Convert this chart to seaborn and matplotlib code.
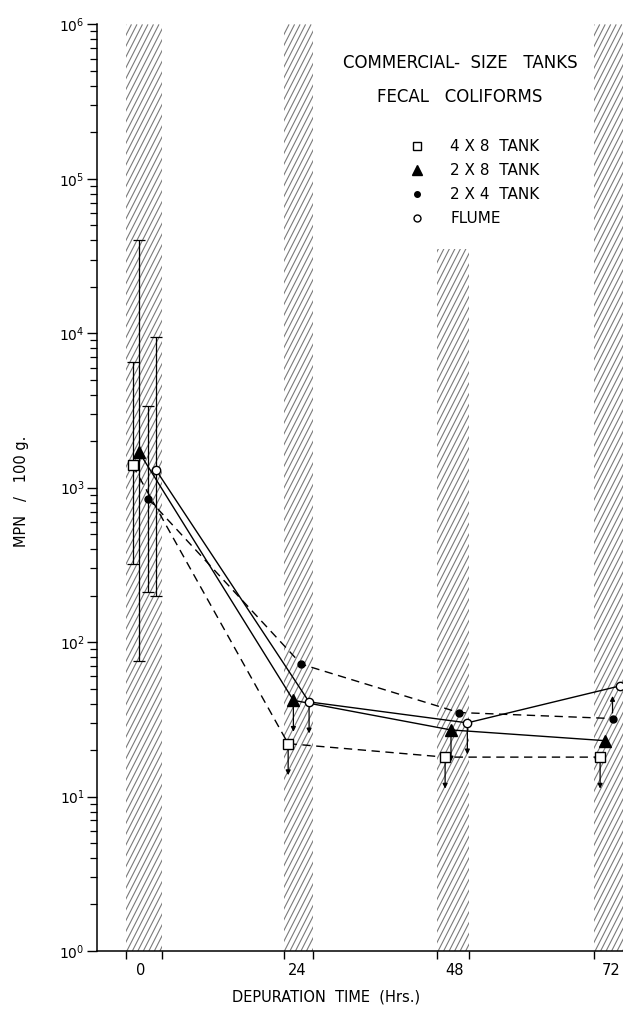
import matplotlib
matplotlib.use("Agg")
import numpy as np
import matplotlib.pyplot as plt
import seaborn as sns
import pandas as pd
from matplotlib.lines import Line2D
from matplotlib.patches import Rectangle
from matplotlib.collections import LineCollection
from matplotlib.ticker import LogLocator, FixedLocator, NullFormatter

# data (hours are slightly offset per series, as drawn)
hours_4x8 = [-1.2, 22.6, 46.6, 70.3]
mpn_4x8 = [1400, 22, 18, 18]
hours_2x8 = [-0.2, 23.4, 47.5, 71.1]
mpn_2x8 = [1700, 42, 27, 23]
hours_2x4 = [1.2, 24.6, 48.7, 72.2]
mpn_2x4 = [850, 72, 35, 32]
hours_flume = [2.4, 25.8, 50.0, 73.3]
mpn_flume = [1300, 41, 30, 52]

# ranges at time 0 (low, high)
err_low = [320, 75, 210, 200]
err_high = [6500, 40000, 3400, 9500]

# depuration periods (hatched bands)
band_start = [-2.2, 21.9, 45.4, 69.4]
band_end = [3.3, 26.4, 50.2, 76.0]
band_top = [1e6, 1e6, 3.5e4, 1e6]

tick_hours = [0, 24, 48, 72]
decades = [1, 10, 100, 1000, 10000, 100000, 1000000]

sns.set_theme(style="ticks")
plt.rcParams['font.family'] = ['DejaVu Sans']
for k in ['text.color', 'axes.labelcolor', 'xtick.color', 'ytick.color', 'axes.edgecolor']:
    plt.rcParams[k] = 'black'

fig = plt.figure(figsize=(6.23, 10.16), dpi=100)
ax = fig.add_axes([0.156, 0.064, 0.844, 0.912])
ax.set_yscale('log')
ax.set_ylim(1, 1e6)
ax.set_xlim(-6.6, 73.8)

# steep hatching for the bands, clipped to each band rectangle
ax_w = fig.get_figwidth() * fig.dpi * 0.844
ax_h = fig.get_figheight() * fig.dpi * 0.912
slope_dx = (ax_h / np.tan(np.radians(63))) / ax_w   # x shift over full height, axes fraction
step = 5.5 / ax_w
to_axes = ax.transData + ax.transAxes.inverted()
for x0, x1, top in zip(band_start, band_end, band_top):
    a0 = to_axes.transform((x0, 1))[0]
    a1 = to_axes.transform((x1, 1))[0]
    starts = np.arange(a0 - slope_dx, a1 + step, step)
    segs = [[(s, 0), (s + slope_dx, 1)] for s in starts]
    lc = LineCollection(segs, colors='#7a7a7a', linewidths=0.8,
                        transform=ax.transAxes, zorder=0)
    ax.add_collection(lc)
    rect = Rectangle((x0, 1), x1 - x0, top - 1, transform=ax.transData)
    lc.set_clip_path(rect)

series = [
    ("4 X 8  TANK", hours_4x8, mpn_4x8, 's', 'white', (6, 4), 7),
    ("2 X 8  TANK", hours_2x8, mpn_2x8, '^', 'black', None, 8),
    ("2 X 4  TANK", hours_2x4, mpn_2x4, 'o', 'black', (6, 4), 5),
    ("FLUME", hours_flume, mpn_flume, 'o', 'white', None, 6),
]

handles = []
for i, (name, hx, hy, mk, fc, dash, ms) in enumerate(series):
    df = pd.DataFrame({'hours': hx, 'mpn': hy})
    sns.lineplot(data=df, x='hours', y='mpn', ax=ax, color='black',
                 linewidth=1.0, marker=mk, markersize=ms,
                 markerfacecolor=fc, markeredgecolor='black',
                 markeredgewidth=1.0, zorder=3)
    if dash:
        ax.lines[-1].set_dashes(dash)
    ax.errorbar([hx[0]], [hy[0]],
                yerr=[[hy[0] - err_low[i]], [err_high[i] - hy[0]]],
                fmt='none', ecolor='black', elinewidth=0.9, capsize=4,
                capthick=0.9, zorder=2)
    handles.append(Line2D([], [], linestyle='none', marker=mk, markersize=ms - 1,
                          markerfacecolor=fc, markeredgecolor='black',
                          color='black', label=name))

# "less than" / "greater than" arrows
arrows = [
    (hours_4x8, mpn_4x8, [1, 2, 3], 'down'),
    (hours_2x8, mpn_2x8, [1, 2], 'down'),
    (hours_flume, mpn_flume, [1, 2], 'down'),
    (hours_2x4, mpn_2x4, [3], 'up'),
]
for hx, hy, idx, d in arrows:
    for k in idx:
        f = 1 / 1.6 if d == 'down' else 1.4
        ax.annotate('', xy=(hx[k], hy[k] * f), xytext=(hx[k], hy[k]),
                    arrowprops=dict(arrowstyle='-|>', color='black', lw=0.9,
                                    mutation_scale=7, shrinkA=4, shrinkB=0),
                    zorder=2)

ax.set_yticks(decades)
ax.yaxis.set_minor_locator(LogLocator(base=10, subs=range(2, 10), numticks=20))
ax.yaxis.set_minor_formatter(NullFormatter())
ax.set_ylim(1, 1e6)
ax.tick_params(axis='y', which='major', length=7, width=1, labelsize=10, pad=2)
ax.tick_params(axis='y', which='minor', length=5, width=0.9)

ax.set_xticks(tick_hours)
ax.set_xticklabels([str(h) for h in tick_hours])
ax.xaxis.set_minor_locator(FixedLocator([b for pair in zip(band_start, band_end) for b in pair]))
ax.xaxis.set_minor_formatter(NullFormatter())
ax.tick_params(axis='x', which='major', length=0, labelsize=10.5, pad=9)
ax.tick_params(axis='x', which='minor', length=6, width=1)

sns.despine(ax=ax, top=True, right=True)
ax.spines['left'].set_linewidth(1.1)
ax.spines['bottom'].set_linewidth(1.1)

ax.set_xlabel("DEPURATION  TIME  (Hrs.)", fontsize=10.5)
ax.xaxis.set_label_coords(0.435, -0.042)
ax.set_ylabel("MPN   /   100 g.", fontsize=10.5)
ax.yaxis.set_label_coords(-0.13, 0.496)

ax.text(0.69, 0.958, "COMMERCIAL-  SIZE   TANKS", transform=ax.transAxes,
        ha='center', va='center', fontsize=12)
ax.text(0.69, 0.922, "FECAL   COLIFORMS", transform=ax.transAxes,
        ha='center', va='center', fontsize=12)
ax.legend(handles=handles, loc='upper left', bbox_to_anchor=(0.593, 0.876),
          frameon=False, fontsize=11, handlelength=1.0, handletextpad=1.7,
          labelspacing=0.58, borderaxespad=0, borderpad=0)

fig.savefig("out.png", dpi=100)
